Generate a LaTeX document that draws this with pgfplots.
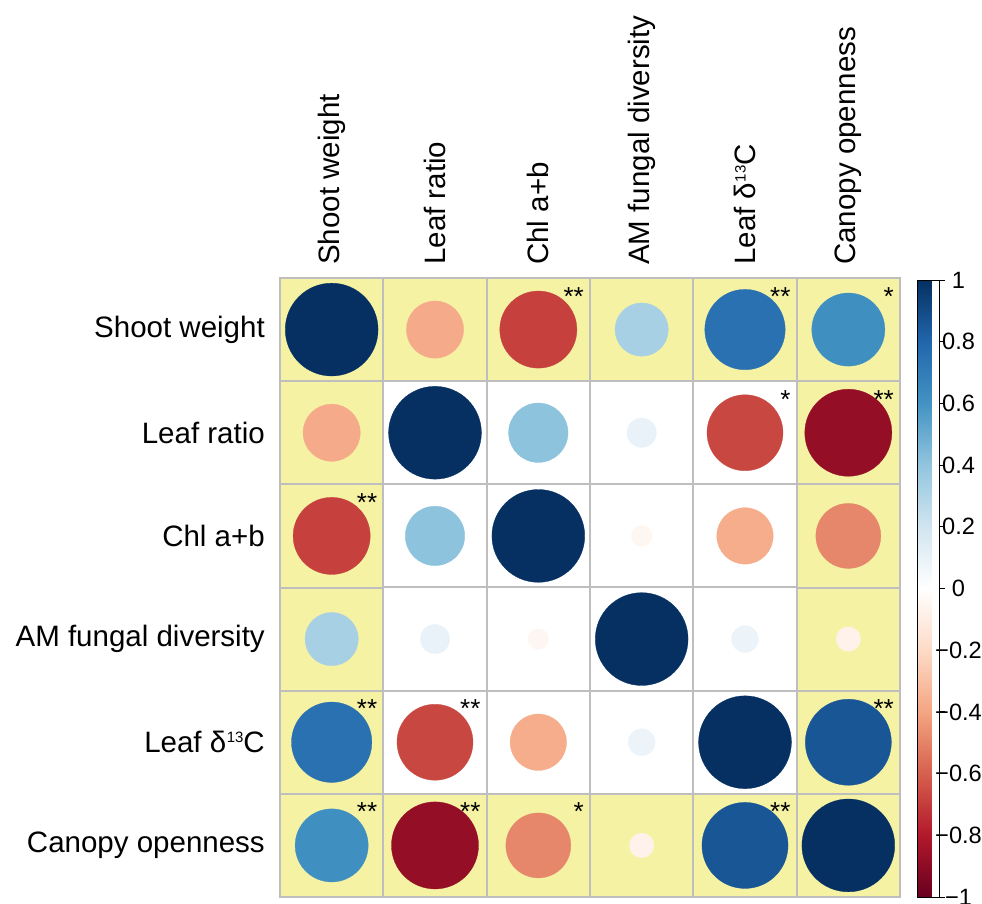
\documentclass[border=0pt]{standalone}
\usepackage{fontspec}
\setmainfont{Liberation Sans}
\usepackage{pgfplots}
\usepackage{pgfplotstable}
\pgfplotsset{compat=1.18}
\definecolor{yel}{RGB}{245,242,164}
\definecolor{gridgray}{RGB}{190,190,190}
\pgfplotsset{colormap={rdbu}{rgb255=(103,0,31) rgb255=(178,24,43) rgb255=(214,96,77) rgb255=(244,165,130) rgb255=(253,219,199) rgb255=(255,255,255) rgb255=(209,229,240) rgb255=(146,197,222) rgb255=(67,147,195) rgb255=(33,102,172) rgb255=(5,48,97)}}
% correlation matrix: x = column (1..6), y = 7 - row
\pgfplotstableread{
x y r
1 6 1
2 6 -0.38
3 6 -0.69
4 6 0.33
5 6 0.75
6 6 0.62
1 5 -0.38
2 5 1
3 5 0.41
4 5 0.10
5 5 -0.67
6 5 -0.88
1 4 -0.69
2 4 0.41
3 4 1
4 4 -0.05
5 4 -0.37
6 4 -0.49
1 3 0.33
2 3 0.10
3 3 -0.05
4 3 1
5 3 0.085
6 3 -0.07
1 2 0.75
2 2 -0.67
3 2 -0.37
4 2 0.085
5 2 1
6 2 0.86
1 1 0.62
2 1 -0.88
3 1 -0.49
4 1 -0.07
5 1 0.86
6 1 1
}\corr
\pgfplotstableread{
x y
1 6
2 6
3 6
4 6
5 6
6 6
1 1
2 1
3 1
4 1
5 1
6 1
1 2
1 3
1 4
1 5
6 2
6 3
6 4
6 5
}\yellowcells
\pgfplotstableread{
x y s
3.5 6.5 **
5.5 6.5 **
6.5 6.5 *
5.5 5.5 *
6.5 5.5 **
1.5 4.5 **
1.5 2.5 **
2.5 2.5 **
6.5 2.5 **
1.5 1.5 **
2.5 1.5 **
3.5 1.5 *
5.5 1.5 **
}\stars
\begin{document}
\begin{tikzpicture}[x=1pt,y=1pt]
\useasboundingbox (0,0) rectangle (982,904);
\begin{axis}[
  at={(280pt,7pt)}, anchor=south west,
  scale only axis, width=620pt, height=619pt,
  xmin=0.5, xmax=6.5, ymin=0.5, ymax=6.5,
  clip=false,
  colormap name=rdbu, point meta min=-1, point meta max=1,
  xtick={1,2,3,4,5,6}, ytick={1,2,3,4,5,6},
  xticklabels={Shoot weight, Leaf ratio, Chl a+b, AM fungal diversity, {Leaf δ\kern0.5pt\raisebox{10pt}{\fontsize{15}{15}\selectfont 13}C}, Canopy openness},
  yticklabels={Canopy openness, {Leaf δ\kern0.5pt\raisebox{10pt}{\fontsize{15}{15}\selectfont 13}C}, AM fungal diversity, Chl a+b, Leaf ratio, Shoot weight},
  xticklabel pos=upper,
  tick label style={font=\fontsize{29.5}{35}\selectfont, inner sep=0pt},
  xticklabel style={rotate=90, anchor=west},
  yticklabel style={anchor=east},
  xticklabel shift=13pt, yticklabel shift=15pt,
  major tick length=0pt, minor tick length=0pt,
  minor xtick={0.5,1.5,2.5,3.5,4.5,5.5,6.5},
  minor ytick={0.5,1.5,2.5,3.5,4.5,5.5,6.5},
  xminorgrids, yminorgrids,
  minor grid style={draw=gridgray, line width=2pt},
  axis line style={draw=gridgray, line width=2pt},
  colorbar,
  colorbar style={
    at={(parent axis.north east)}, anchor=north west, xshift=9pt, yshift=-2pt,
    scale only axis, width=22pt, height=617pt,
    ytick={-1,-0.8,-0.6,-0.4,-0.2,0,0.2,0.4,0.6,0.8,1},
    yticklabels={−1,−0.8,−0.6,−0.4,−0.2,0,0.2,0.4,0.6,0.8,1},
    yticklabel style={font=\fontsize{23.6}{28}\selectfont, anchor=center, inner sep=0pt, xshift=14pt},
    ytick pos=right, yticklabel pos=right, tick align=outside,
    major tick length=5pt,
    tick style={black, line width=0.8pt},
    axis line style={black, line width=0.8pt},
  },
]
\addplot[only marks, mark=square*, mark size=51.67pt, mark options={fill=yel, draw=gridgray, line width=2pt}]
  table[x=x, y=y] {\yellowcells};
\addplot[scatter, only marks, mark=*, point meta=\thisrow{r},
  scatter/use mapped color={draw=mapped color, fill=mapped color, line width=0.3pt},
  visualization depends on={46.4*sqrt(abs(\thisrow{r}))\as\rad},
  scatter/@pre marker code/.append style={/tikz/mark size=\rad pt}]
  table[x=x, y=y] {\corr};
\addplot[draw=none, mark=none, nodes near coords, point meta=explicit symbolic,
  every node near coord/.style={anchor=north east, inner sep=0pt, xshift=-6pt, yshift=-9pt, font=\fontsize{26}{26}\selectfont, text=black}]
  table[x=x, y=y, meta=s] {\stars};
\end{axis}
\end{tikzpicture}
\end{document}
